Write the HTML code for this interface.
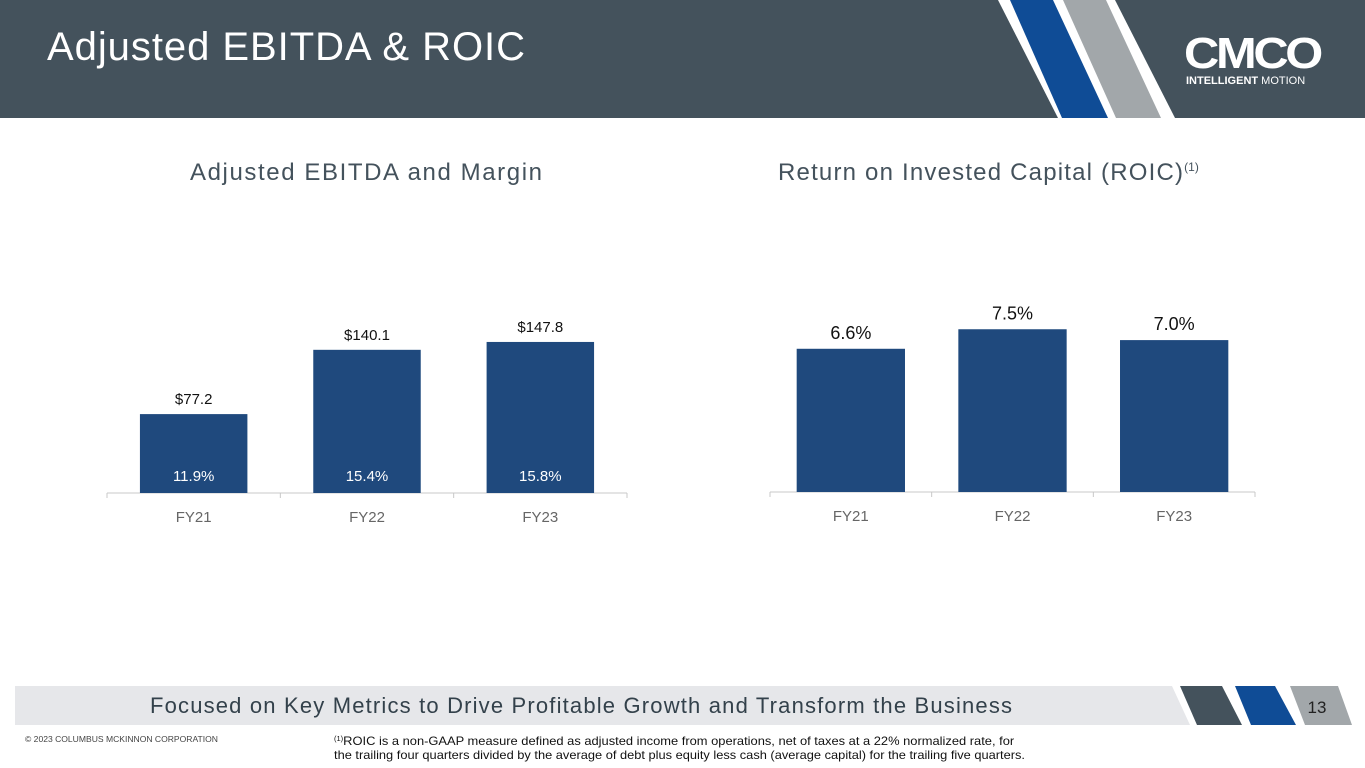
<!DOCTYPE html>
<html><head><meta charset="utf-8"><style>
body{margin:0;width:1365px;height:768px;background:#fff;overflow:hidden;font-family:"Liberation Sans",sans-serif;position:relative}
.abs{position:absolute}
</style></head><body>
<svg class="abs" style="left:0;top:0" width="1365" height="768">
 <rect x="0" y="0" width="1365" height="118" fill="#44525c"/>
 <polygon points="998,0 1115,0 1175,118 1058,118" fill="#fff"/>
 <polygon points="1010,0 1053,0 1108,118 1062,118" fill="#0f4c96"/>
 <polygon points="1063,0 1106,0 1161,118 1116,118" fill="#a2a7aa"/>
 <text x="47" y="60" font-size="40" fill="#fff" textLength="478" lengthAdjust="spacing">Adjusted EBITDA &amp; ROIC</text>
 <g>
  <text x="1184" y="68" font-size="44" font-weight="bold" fill="#fff" letter-spacing="-3" textLength="136" lengthAdjust="spacingAndGlyphs">CMCO</text>
  <text x="1186" y="84" font-size="11" fill="#fff"><tspan font-weight="bold">INTELLIGENT</tspan> MOTION</text>
 </g>
 <text x="190" y="180" font-size="24" fill="#44525c" textLength="352" lengthAdjust="spacing">Adjusted EBITDA and Margin</text>
 <text x="778" y="180" font-size="24" fill="#44525c"><tspan textLength="405" lengthAdjust="spacing">Return on Invested Capital (ROIC)</tspan><tspan font-size="12" dy="-9">(1)</tspan></text>
 <g id="left"></g><g id="right"></g>
 <polygon points="15,686 1172,686 1190,725 15,725" fill="#e6e7ea"/>
 <text x="150" y="713" font-size="22" fill="#33414b" textLength="862" lengthAdjust="spacing">Focused on Key Metrics to Drive Profitable Growth and Transform the Business</text>
 <polygon points="1180,686 1222,686 1242,725 1197,725" fill="#44525c"/>
 <polygon points="1235,686 1275,686 1296,725 1251,725" fill="#0f4c96"/>
 <polygon points="1290,686 1338,686 1352,725 1305,725" fill="#a2a7aa"/>
 <text x="1317" y="713" font-size="17" fill="#222" text-anchor="middle">13</text>
 <text x="25" y="742" font-size="8.5" fill="#444" textLength="193" lengthAdjust="spacingAndGlyphs">© 2023 COLUMBUS MCKINNON CORPORATION</text>
 <text x="334" y="745" font-size="12" fill="#111"><tspan font-size="7.5" dy="-4">(1)</tspan><tspan dy="4" textLength="671" lengthAdjust="spacingAndGlyphs">ROIC is a non-GAAP measure defined as adjusted income from operations, net of taxes at a 22% normalized rate, for</tspan></text>
 <text x="334" y="759" font-size="12" fill="#111" textLength="691" lengthAdjust="spacingAndGlyphs">the trailing four quarters divided by the average of debt plus equity less cash (average capital) for the trailing five quarters.</text>
</svg>
<script>
const categories=["FY21","FY22","FY23"];
const ebitdaValues=[77.2,140.1,147.8];
const ebitdaLabels=["$77.2","$140.1","$147.8"];
const marginLabels=["11.9%","15.4%","15.8%"];
const roicValues=[6.6,7.5,7.0];
const roicLabels=["6.6%","7.5%","7.0%"];
const NS="http://www.w3.org/2000/svg";
function mk(p,t,a){const e=document.createElementNS(NS,t);for(const k in a)e.setAttribute(k,a[k]);p.appendChild(e);return e;}
function chart(g,x0,x1,base,scale,vals,labs,inner,lfs,prefix,ratio){
 const n=vals.length,w=(x1-x0)/n,bw=w*ratio;
 const ax=mk(g,'line',{x1:x0,x2:x1,y1:base,y2:base,stroke:'#c8c8c8'});
 
 
 for(let i=0;i<=n;i++)mk(g,'line',{x1:x0+i*w,x2:x0+i*w,y1:base,y2:base+5,stroke:'#c8c8c8'});
 vals.forEach((v,i)=>{
  const cx=x0+w*(i+0.5),h=v*scale;
  const r=mk(g,'rect',{x:cx-bw/2,y:base-h,width:bw,height:h,fill:'#1f497d'});
  
  
  const t=mk(g,'text',{x:cx,y:base-h-10,'font-size':lfs,fill:'#111','text-anchor':'middle'});t.textContent=labs[i];
  
  
  if(inner){const m=mk(g,'text',{x:cx,y:base-12,'font-size':15,fill:'#fff','text-anchor':'middle'});m.textContent=inner[i];
   
   }
  const c=mk(g,'text',{x:cx,y:base+29,'font-size':15,fill:'#666','text-anchor':'middle'});c.textContent=categories[i];
  
  
 });
}
chart(document.getElementById('left'),107,627,493,1.022,ebitdaValues,ebitdaLabels,marginLabels,15,'ebitda',0.62);
chart(document.getElementById('right'),770,1255,492,21.7,roicValues,roicLabels,null,18,'roic',0.67);
</script>
</body></html>
